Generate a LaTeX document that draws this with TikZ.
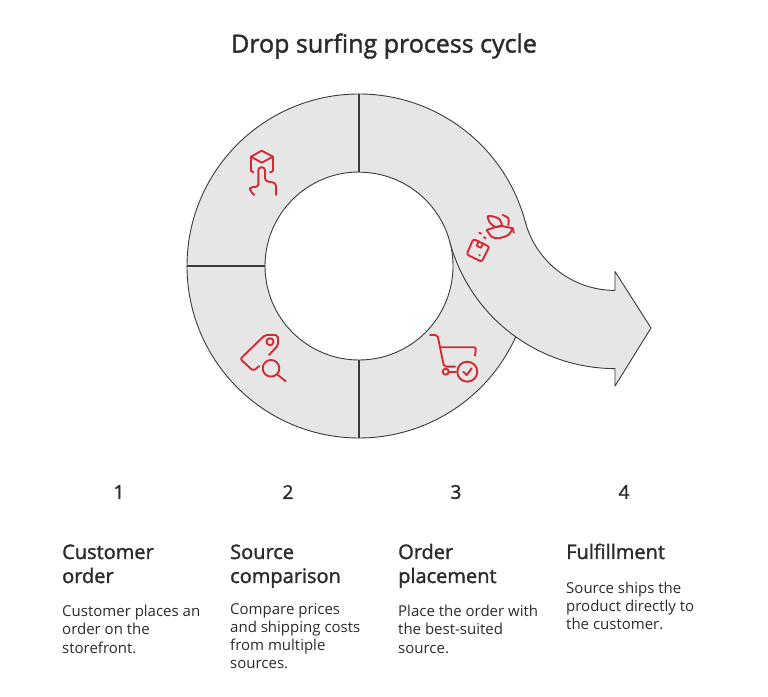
\documentclass[tikz,border=0pt]{standalone}
\usepackage{fontspec}
\setmainfont{Open Sans}
\newfontfamily\semifont{Open Sans}[FakeBold=1.6]
\usetikzlibrary{positioning}
\definecolor{bandgray}{HTML}{E6E6E6}
\definecolor{edgegray}{HTML}{3A3A3A}
\definecolor{iconred}{HTML}{D42A34}
\definecolor{textdark}{HTML}{2B2B2B}
\tikzset{
	band/.style={draw=edgegray,fill=bandgray,line width=0.9pt,line join=round},
	divline/.style={draw=edgegray,line width=1.4pt},
	icon/.style={draw=iconred,line width=1.9pt,line cap=round,line join=round},
	numtext/.style={text=textdark,font=\semifont\fontsize{19}{23}\selectfont,inner sep=0pt},
	headtext/.style={text=textdark,font=\semifont\fontsize{20}{24}\selectfont,align=left,inner sep=0pt},
	bodytext/.style={text=textdark,font=\fontsize{15}{18}\selectfont,align=left,inner sep=0pt}
}

\begin{document}
\begin{tikzpicture}[x=1pt,y=1pt]
	\useasboundingbox (0,0) rectangle (768,696);
	\coordinate (ctr) at (359,430);
	% ring segments
	\draw[band] (ctr) ++(90:172) arc[start angle=90,end angle=180,radius=172] -- ++(78,0) arc[start angle=180,end angle=90,radius=94] -- cycle;
	\draw[band] (ctr) ++(180:172) arc[start angle=180,end angle=270,radius=172] -- ++(0,78) arc[start angle=270,end angle=180,radius=94] -- cycle;
	\draw[band] (ctr) ++(270:172) arc[start angle=270,end angle=375,radius=172] -- ++(195:78) arc[start angle=375,end angle=270,radius=94] -- cycle;
	% last segment runs out into the arrow
	\draw[band] (ctr) ++(90:172) arc[start angle=90,end angle=15,radius=172]
		arc[start angle=195,end angle=270,radius=93] -- ++(0,19) -- (651,368) -- (615,310) -- ++(0,17.4)
		arc[start angle=270,end angle=195,radius=171]
		arc[start angle=15,end angle=90,radius=94] -- cycle;
	\foreach \a in {90,180,270}
	\draw[divline] (ctr) ++(\a:94) -- ++(\a:78);

	\node[text=textdark,font=\semifont\fontsize{25}{30}\selectfont,inner sep=0pt] (title) at (384,650) {Drop surfing process cycle};

	\foreach \x/\c/\num/\gap/\head/\body in {
		62/119/1/13.8/{Customer\\order}/{Customer places an\\order on the\\storefront.},
		230/288/2/11/{Source\\comparison}/{Compare prices\\and shipping costs\\from multiple\\sources.},
		398/456/3/13.8/{Order\\placement}/{Place the order with\\the best-suited\\source.},
		566/624/4/14.4/{Fulfillment}/{Source ships the\\product directly to\\the customer.}}{
		\node[numtext] (num\num) at (\c,204) {\num};
		\node[headtext,anchor=north west] (head\num) at (\x,154) {\strut\head\strut};
		\node[bodytext,below=\gap pt of head\num.south west,anchor=north west] (body\num) {\strut\body};
	}

	% icons, typed in screen pixels
	\begin{scope}[shift={(0,696)},y=-1pt]
		% box and hand
		\draw[icon] (251,171) -- (251,156.7) -- (261.7,150.7) -- (273,156.7) -- (273,171) -- (270,172.3);
		\draw[icon] (251,171) -- (253.3,172.3);
		\draw[icon] (251,156.7) -- (261.7,162.7) -- (273,156.7);
		\draw[icon,rounded corners=3pt] (254.3,195) -- (250,191) -- (250,187) -- (258.3,187) -- (258.3,167.3) -- (265,167.3) -- (265,181) -- (276,183) -- (276,195);
		% tag and lens
		\draw[icon,rounded corners=2pt] (269,355) -- (278.3,345) -- (277.7,335) -- (265,335) -- (240.3,359) -- (253.3,371) -- (259.3,366);
		\draw[icon] (270,341.7) circle[radius=3.5];
		\draw[icon] (271,368.3) circle[radius=8.3];
		\draw[icon] (277,374.3) -- (285.7,381.3);
		% cart
		\draw[icon,rounded corners=2pt] (430,335) -- (437.5,335) -- (444,366.7) -- (455,366.7);
		\draw[icon,rounded corners=2pt] (440.7,347.3) -- (476,347.3) -- (475,355.7);
		\draw[icon] (448.7,371.7) -- (456,371.7);
		\draw[icon] (445.7,371.7) circle[radius=3];
		\draw[icon] (467.3,371.7) circle[radius=10];
		\draw[icon] (463.3,371.7) -- (466.7,375) -- (471.7,368.3);
		% parcel and bird
		\draw[icon,rounded corners=2pt] (473.3,239) -- (489.3,246.7) -- (481.7,261.7) -- (466.7,254.5) -- cycle;
		\draw[icon] (478.7,241) -- (476.7,245.7) -- (480.7,247.7) -- (483.3,243.3);
		\draw[icon] (479.3,255) -- (479.8,255.3);
		\draw[icon] (479.3,232.7) -- (481,233.6);
		\draw[icon] (484,237.3) -- (485.5,238.2);
		\draw[icon] plot[smooth cycle] coordinates {(488.3,216) (498.3,218.3) (501.7,225) (495,226.7) (489.3,221.7)};
		\draw[icon] plot[smooth] coordinates {(486.7,230) (491.7,236.7) (498.3,238.3) (508.3,235) (512.7,228.3)};
		\draw[icon] (486.7,230) -- (495,227.3) -- (501.7,226) -- (512.7,228.3) -- (513.8,232.7);
		\draw[icon] plot[smooth] coordinates {(502.7,215) (508.3,218.3) (508.3,225)};
	\end{scope}
\end{tikzpicture}
\end{document}
